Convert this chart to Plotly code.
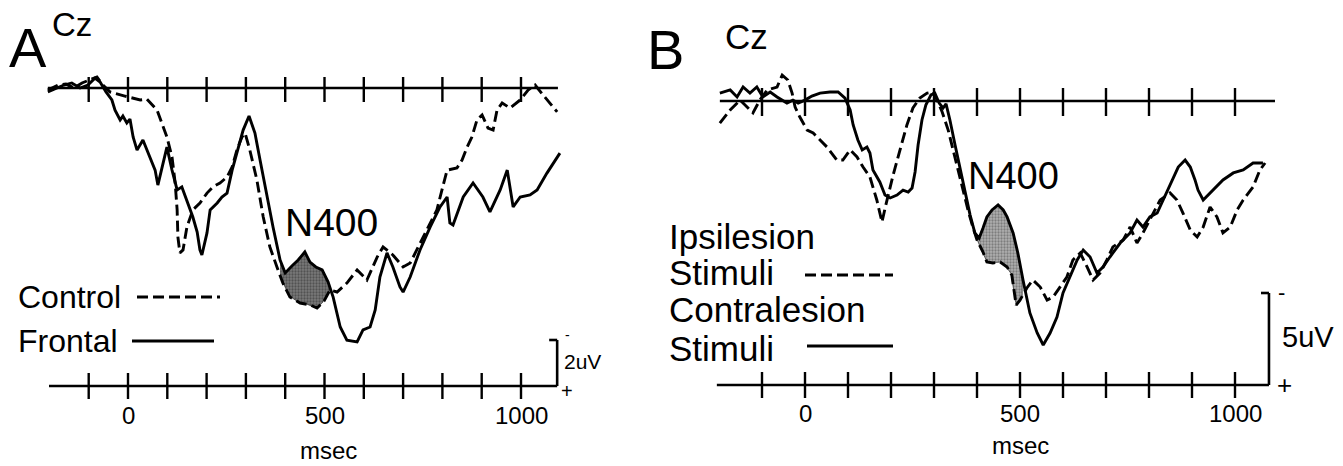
import numpy as np
import plotly.graph_objects as go

# ---------------- data ----------------
TICKS_MS = list(range(-100, 1001, 100))
TICK_LABEL_MS = [0, 500, 1000]
TICK_LABEL_TEXT = ["0", "500", "1000"]

# Panel A (Cz): Control (dashed) and Frontal (solid); amplitude in uV, negative up
A_CONTROL_T = [-204, -178, -158, -137, -117, -97, -79, -64, -46, -8, 31, 48, 74, 99, 112, 120, 125, 127, 132, 140,
               150, 165, 183, 201, 216, 234, 252, 265, 277, 290, 298, 310, 328, 344, 361, 379, 394, 412, 438, 463,
               481, 499, 514, 532, 557, 583, 608, 634, 649, 674, 700, 718, 751, 786, 802, 812, 837, 850, 863, 875,
               888, 901, 916, 929, 939, 952, 972, 998, 1018, 1036, 1056, 1074, 1092]
A_CONTROL_V = [0.09, -0.13, -0.17, 0, -0.22, -0.35, -0.48, -0.13, 0.17, 0.35, 0.52, 0.48, 0.96, 2.13, 3.0, 4.13, 5.3, 6.48, 7.17, 7.04,
               6.04, 5.3, 5.0, 4.57, 4.3, 4.13, 3.87, 3.43, 2.7, 2.13, 1.96, 2.7, 4.0, 5.6, 6.91, 7.78, 8.48, 9.09, 9.35, 9.43,
               9.57, 9.26, 8.78, 8.87, 8.48, 7.91, 8.35, 7.35, 6.91, 7.26, 7.78, 7.61, 6.48, 5.3, 4.22, 3.57, 3.48, 3.13, 2.57, 2.13,
               1.39, 1.17, 1.74, 1.83, 0.96, 0.65, 0.87, 0.52, 0.09, -0.13, 0.30, 0.65, 1.04]

A_FRONTAL_T = [-204, -183, -163, -143, -122, -102, -84, -71, -56, -41, -33, -20, -13, -3, 5, 13, 23, 38, 56, 69,
               76, 89, 99, 112, 125, 137, 150, 165, 176, 183, 188, 201, 209, 227, 239, 252, 265, 277, 293, 308,
               323, 336, 354, 369, 387, 400, 417, 433, 450, 463, 478, 494, 509, 522, 540, 557, 583, 598, 616, 629,
               641, 659, 674, 692, 700, 718, 743, 769, 794, 812, 819, 827, 853, 878, 903, 921, 947, 965, 980, 998,
               1023, 1041, 1066, 1099]
A_FRONTAL_V = [0.17, 0, -0.13, -0.22, 0, -0.13, -0.43, -0.26, 0.17, 0.52, 0.96, 1.39, 1.22, 1.52, 1.35, 2.13, 2.7, 2.26, 3.0, 3.57,
               4.22, 3.35, 2.57, 3.57, 4.43, 4.3, 4.87, 5.61, 6.26, 7.04, 7.26, 6.3, 5.3, 5.0, 4.74, 4.57, 3.57, 2.83, 1.83, 1.22,
               1.96, 3.13, 4.74, 6.04, 7.48, 8.04, 7.74, 7.48, 7.13, 7.57, 7.78, 7.91, 8.43, 9.09, 10.39, 10.96, 11.04, 10.52, 10.39, 9.65,
               8.22, 7.17, 7.78, 8.65, 8.87, 8.22, 7.04, 6.04, 5.17, 4.74, 5.87, 5.96, 4.74, 4.13, 4.74, 5.39, 4.43, 3.57, 5.17, 4.74,
               4.65, 4.43, 3.7, 2.83]

# Panel B (Cz): Ipsilesion stimuli (dashed) and Contralesion stimuli (solid)
B_IPSI_T = [-198, -174, -151, -135, -121, -105, -88, -65, -53, -40, -30, -23, -12, 5, 19, 35, 51, 74, 88, 105,
            121, 135, 151, 167, 179, 188, 205, 221, 237, 251, 267, 284, 298, 307, 319, 333, 344, 356, 368, 379,
            391, 400, 414, 423, 437, 454, 470, 481, 491, 500, 516, 530, 547, 563, 577, 593, 609, 623, 640, 656,
            670, 686, 702, 716, 740, 756, 772, 786, 802, 826, 849, 865, 879, 896, 912, 926, 942, 958, 972, 989,
            1005, 1019, 1042, 1058, 1070]
B_IPSI_V = [1.2, 0.49, -0.05, 0.33, 0.65, -0.05, -0.6, -0.76, -1.41, -1.14, -0.43, 0.33, 0.87, 1.58, 1.74, 2.12, 2.5, 3.21, 3.21, 2.66,
            3.04, 3.59, 4.13, 5.38, 6.58, 5.65, 4.02, 2.66, 1.3, 0.38, -0.16, -0.43, -0.49, -0.05, 0.6, 1.58, 2.66, 3.75, 4.84, 5.92,
            6.9, 7.55, 8.21, 8.75, 8.8, 8.75, 9.02, 9.46, 11.09, 10.82, 10.16, 9.73, 10.11, 10.82, 10.65, 10.11, 9.57, 8.64, 8.26, 9.02,
            9.73, 9.35, 8.64, 7.93, 7.55, 6.85, 7.72, 7.17, 6.47, 5.38, 5.0, 5.38, 6.09, 7.01, 7.39, 6.85, 5.76, 6.3, 7.17, 6.85,
            5.92, 5.38, 4.67, 3.75, 3.37]

B_CONTRA_T = [-198, -174, -158, -144, -128, -112, -98, -81, -65, -42, -28, -16, 0, 16, 35, 58, 77, 93, 105, 112,
              123, 133, 144, 151, 158, 174, 186, 198, 214, 228, 240, 249, 256, 263, 272, 281, 293, 302, 312, 321,
              328, 337, 349, 360, 372, 384, 395, 405, 414, 423, 435, 449, 461, 470, 484, 495, 507, 523, 540, 554,
              570, 586, 600, 616, 633, 647, 663, 679, 693, 709, 733, 756, 772, 786, 802, 819, 833, 854, 868, 884,
              896, 907, 914, 926, 942, 958, 972, 996, 1019, 1042, 1065]
B_CONTRA_V = [-0.43, -0.6, -0.22, -0.76, -0.43, -0.76, -0.22, -0.49, -0.22, 0.11, -0.05, 0.11, -0.05, -0.27, -0.43, -0.49, -0.49, -0.16, 0.49, 1.3,
              2.12, 2.66, 2.5, 2.83, 3.75, 4.4, 5.11, 5.27, 5.11, 4.84, 4.95, 4.73, 3.86, 2.39, 1.03, 0.22, -0.33, -0.43, 0.11, 0.38,
              0.16, 1.03, 2.39, 3.64, 4.84, 6.2, 7.17, 7.45, 6.9, 6.3, 5.92, 5.65, 5.92, 6.3, 7.17, 8.26, 9.73, 11.52, 12.61, 13.26,
              12.61, 11.74, 10.43, 9.57, 8.64, 8.1, 8.48, 9.35, 9.02, 8.48, 7.72, 7.17, 6.47, 6.85, 6.3, 6.09, 5.38, 4.29, 3.59, 3.21,
              3.59, 4.29, 4.84, 5.38, 5.0, 4.67, 4.29, 3.91, 3.75, 3.37, 3.37]

# N400 shading windows (ms) and scale bars (uV)
SHADE_A_MS = (387, 512)
SHADE_B_MS = (398, 505)
SCALE_A_UV = 2
SCALE_B_UV = 5

# ---------------- layout geometry (pixels) ----------------
W, H = 1343, 466
SPLIT = 640
FONT = "Liberation Sans, Arial, Helvetica, sans-serif"
LW = 2.9

PANELS = {
    "A": dict(t0=128, ppm=0.393, base=88, ppu=23.0, px_lo=0, px_hi=SPLIT,
              top=(-204, 1094), bot=(-201, 1092), bot_py=386, bar_t=1092,
              tick_up=11, tick_dn=14, btick=13, lab_py=415, msec=(328, 450)),
    "B": dict(t0=805, ppm=0.43, base=101, ppu=18.4, px_lo=SPLIT, px_hi=W,
              top=(-198, 1093), bot=(-205, 1079), bot_py=385, bar_t=1079,
              tick_up=13, tick_dn=15, btick=13, lab_py=413, msec=(1020, 445)),
}

fig = go.Figure()
shapes, annotations = [], []


def paper_x(px):
    return px / W


def paper_y(py):
    return 1 - py / H


def text(px, py, s, size, xanchor="center", yanchor="middle"):
    annotations.append(dict(x=paper_x(px), y=paper_y(py), xref="paper", yref="paper", text=s,
                            showarrow=False, xanchor=xanchor, yanchor=yanchor,
                            font=dict(family=FONT, size=size, color="black")))


def seg(xr, yr, x0, y0, x1, y1, w=LW):
    shapes.append(dict(type="line", xref=xr, yref=yr, x0=x0, y0=y0, x1=x1, y1=y1,
                       line=dict(color="black", width=w)))


def shade(xa, ya, t_up, v_up, t_lo, v_lo, window, bg, fg):
    tt = np.linspace(window[0], window[1], 80)
    up = np.interp(tt, t_up, v_up)
    lo = np.interp(tt, t_lo, v_lo)
    fig.add_trace(go.Scatter(x=np.concatenate([tt, tt[::-1]]), y=np.concatenate([up, lo[::-1]]),
                             mode="lines", fill="toself", line=dict(width=0.8, color="#333"),
                             fillcolor=bg,
                             fillpattern=dict(shape=".", fgcolor=fg, bgcolor=bg, size=3, solidity=0.45),
                             xaxis=xa, yaxis=ya, showlegend=False, hoverinfo="skip"))


def curve(xa, ya, t, v, dash):
    fig.add_trace(go.Scatter(x=t, y=v, mode="lines", line=dict(color="black", width=LW, dash=dash),
                             xaxis=xa, yaxis=ya, showlegend=False, hoverinfo="skip"))


# ---- panel A ----
shade("x", "y", A_FRONTAL_T, A_FRONTAL_V, A_CONTROL_T, A_CONTROL_V, SHADE_A_MS, "#7a7a7a", "#2a2a2a")
curve("x", "y", A_CONTROL_T, A_CONTROL_V, "11px,5px")
curve("x", "y", A_FRONTAL_T, A_FRONTAL_V, "solid")
# ---- panel B ----
shade("x2", "y2", B_CONTRA_T, B_CONTRA_V, B_IPSI_T, B_IPSI_V, SHADE_B_MS, "#b0b0b0", "#4a4a4a")
curve("x2", "y2", B_IPSI_T, B_IPSI_V, "11px,5px")
curve("x2", "y2", B_CONTRA_T, B_CONTRA_V, "solid")

layout_axes = {}
for key, name, xa, ya in (("A", "", "x", "y"), ("B", "2", "x2", "y2")):
    p = PANELS[key]
    xr = [(p["px_lo"] - p["t0"]) / p["ppm"], (p["px_hi"] - p["t0"]) / p["ppm"]]
    yr = [(H - p["base"]) / p["ppu"], (0 - p["base"]) / p["ppu"]]
    layout_axes["xaxis" + name] = dict(domain=[p["px_lo"] / W, p["px_hi"] / W], range=xr, visible=False,
                                       anchor=ya, fixedrange=True)
    layout_axes["yaxis" + name] = dict(domain=[0, 1], range=yr, visible=False, anchor=xa, fixedrange=True)

    u = 1.0 / p["ppu"]          # uV per pixel
    ms = 1.0 / p["ppm"]         # ms per pixel
    vb = (p["bot_py"] - p["base"]) / p["ppu"]   # level of lower time axis in uV units
    # zero (baseline) axis with ticks
    seg(xa, ya, p["top"][0], 0, p["top"][1], 0, 2.6)
    for t in TICKS_MS:
        seg(xa, ya, t, -p["tick_up"] * u, t, p["tick_dn"] * u, 2.4)
    # lower time axis with ticks
    seg(xa, ya, p["bot"][0], vb, p["bot"][1], vb, 2.6)
    for t in TICKS_MS:
        seg(xa, ya, t, vb - p["btick"] * u, t, vb + p["btick"] * u, 2.4)
    for t, s in zip(TICK_LABEL_MS, TICK_LABEL_TEXT):
        annotations.append(dict(x=t, y=paper_y(p["lab_py"]), xref=xa, yref="paper", text=s, showarrow=False,
                                xanchor="center", yanchor="middle",
                                font=dict(family=FONT, size=24, color="black")))
    text(p["msec"][0], p["msec"][1], "msec", 24)
    # amplitude scale bar
    sc = SCALE_A_UV if key == "A" else SCALE_B_UV
    seg(xa, ya, p["bar_t"], vb, p["bar_t"], vb - sc, 2.6)
    seg(xa, ya, p["bar_t"] - 8 * ms, vb - sc, p["bar_t"], vb - sc, 2.6)

# ---- texts panel A ----
text(28, 47, "A", 56)
text(72, 25, "Cz", 33)
text(331, 222, "N400", 39)
text(16, 297, "Control", 32, xanchor="left")
text(16, 341, "Frontal", 32, xanchor="left")
shapes.append(dict(type="line", xref="paper", yref="paper", x0=paper_x(137), x1=paper_x(220),
                   y0=paper_y(297), y1=paper_y(297), line=dict(color="black", width=LW, dash="11px,5px")))
shapes.append(dict(type="line", xref="paper", yref="paper", x0=paper_x(132), x1=paper_x(214),
                   y0=paper_y(341), y1=paper_y(341), line=dict(color="black", width=LW)))
text(582, 361, "2uV", 21)
text(567, 335, "-", 14)
text(567, 391, "+", 20)

# ---- texts panel B ----
text(665, 49, "B", 56)
text(746, 37, "Cz", 35)
text(1014, 176, "N400", 38)
text(667, 236, "Ipsilesion", 35, xanchor="left")
text(667, 272, "Stimuli", 35, xanchor="left")
text(667, 309, "Contralesion", 35, xanchor="left")
text(667, 348, "Stimuli", 35, xanchor="left")
shapes.append(dict(type="line", xref="paper", yref="paper", x0=paper_x(805), x1=paper_x(893),
                   y0=paper_y(275), y1=paper_y(275), line=dict(color="black", width=LW, dash="11px,5px")))
shapes.append(dict(type="line", xref="paper", yref="paper", x0=paper_x(807), x1=paper_x(893),
                   y0=paper_y(346), y1=paper_y(346), line=dict(color="black", width=LW)))
text(1308, 337, "5uV", 29)
text(1281, 292, "-", 22)
text(1284, 385, "+", 26)

fig.update_layout(width=W, height=H, margin=dict(l=0, r=0, t=0, b=0), paper_bgcolor="white",
                  plot_bgcolor="white", showlegend=False, shapes=shapes, annotations=annotations,
                  **layout_axes)

fig.write_html("out.html", config={"displayModeBar": False},
               post_script="document.body.style.margin='0px';document.body.style.padding='0px';"
                           "document.documentElement.style.overflow='hidden';")
